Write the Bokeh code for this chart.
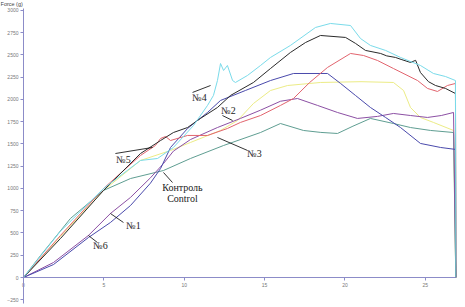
from bokeh.plotting import figure
from bokeh.models import LinearAxis, FixedTicker, ColumnDataSource, Range1d, Label
from bokeh.core.properties import value
from bokeh.embed import file_html
from bokeh.resources import INLINE

# ---- data (time s, force g) ----
t_n4 = [0, 2.30, 4.98, 7.28, 8.34, 9.33, 10.58, 11.45, 11.82, 12.07, 12.26, 12.45, 12.69, 13.01, 13.19, 13.94, 14.75, 15.37, 16.61, 18.17, 19.10, 20.35, 20.97, 21.59, 22.53, 23.46, 24.70, 25.51, 26.26, 26.88, 26.9]
F_n4 = [0, 520, 1000, 1315, 1337, 1461, 1708, 1933, 2045, 2213, 2404, 2326, 2382, 2213, 2191, 2270, 2382, 2472, 2607, 2809, 2854, 2831, 2685, 2607, 2551, 2472, 2382, 2292, 2258, 2213, 0]

t_n5 = [0, 2.30, 4.98, 7.28, 8.53, 9.33, 10.21, 11.01, 12.07, 12.88, 14.31, 15.37, 16.61, 17.55, 18.48, 20.04, 20.66, 21.28, 22.22, 22.60, 23.15, 23.50, 24.08, 24.40, 24.70, 25.20, 25.64, 26.26, 26.88, 26.9]
F_n5 = [0, 438, 978, 1393, 1539, 1629, 1685, 1787, 1910, 2045, 2191, 2348, 2528, 2640, 2719, 2697, 2630, 2551, 2517, 2490, 2472, 2450, 2416, 2440, 2303, 2200, 2157, 2124, 2067, 0]

t_n6 = [0, 1.87, 4.04, 5.41, 6.66, 7.90, 8.53, 9.15, 10.21, 11.45, 12.26, 13.81, 15.37, 16.80, 18.92, 19.73, 20.66, 21.59, 22.53, 23.46, 24.70, 25.95, 26.88, 26.9]
F_n6 = [0, 146, 449, 618, 809, 1060, 1225, 1461, 1674, 1854, 1989, 2101, 2213, 2292, 2292, 2180, 2045, 1910, 1798, 1685, 1506, 1461, 1439, 0]

t_n1 = [0, 1.87, 4.04, 5.41, 6.66, 7.90, 8.71, 9.33, 10.39, 12.07, 13.50, 14.75, 15.99, 17.05, 18.30, 19.54, 20.78, 22.03, 23.02, 24.08, 25.14, 26.00, 26.76, 26.9]
F_n1 = [0, 169, 472, 719, 900, 1120, 1280, 1420, 1550, 1685, 1787, 1880, 1980, 2011, 1933, 1854, 1787, 1810, 1843, 1820, 1798, 1820, 1854, 0]

t_n3 = [0, 2.30, 4.98, 7.28, 8.21, 8.53, 8.84, 9.15, 10.21, 11.45, 12.69, 13.50, 14.75, 15.99, 16.80, 17.80, 18.92, 20.35, 21.16, 22.03, 23.02, 24.52, 25.14, 25.76, 26.38, 26.88, 26.9]
F_n3 = [0, 472, 1000, 1371, 1483, 1562, 1584, 1539, 1596, 1596, 1674, 1742, 1820, 1933, 2011, 2190, 2360, 2517, 2494, 2438, 2348, 2213, 2124, 2090, 2157, 2180, 0]

t_n2 = [0, 2.30, 4.98, 7.28, 9.15, 10.39, 12.26, 13.32, 14.31, 15.37, 16.43, 18.48, 21.00, 23.02, 23.65, 24.08, 24.70, 25.51, 26.76, 26.9]
F_n2 = [0, 461, 978, 1315, 1427, 1517, 1652, 1764, 1955, 2101, 2157, 2191, 2200, 2191, 2101, 1910, 1798, 1742, 1652, 0]

t_ctrl = [0, 1.06, 2.92, 4.98, 6.66, 8.71, 10.39, 12.45, 14.75, 15.99, 17.42, 18.50, 19.54, 20.50, 21.59, 23.02, 24.08, 25.33, 26.76, 26.9]
F_ctrl = [0, 247, 663, 978, 1112, 1202, 1337, 1483, 1629, 1730, 1652, 1630, 1618, 1700, 1787, 1730, 1685, 1652, 1629, 0]

x_ticks = [0, 5, 10, 15, 20, 25]
y_ticks = [-250, 0, 250, 500, 750, 1000, 1250, 1500, 1750, 2000, 2250, 2500, 2750, 3000]

label_text = ["№4", "№2", "№3", "№5", "Контроль", "Control", "№1", "№6"]
label_t = [10.95, 12.76, 14.37, 6.22, 9.89, 9.89, 6.85, 4.79]
label_F = [2022, 1876, 1393, 1326, 1011, 888, 584, 360]

ptr_t0 = [10.52, 12.38, 12.07, 5.72, 8.71, 5.41, 4.04]
ptr_F0 = [2079, 1820, 1573, 1393, 1180, 719, 472]
ptr_t1 = [11.64, 13.01, 13.94, 8.03, 9.27, 6.22, 4.60]
ptr_F1 = [2157, 1764, 1427, 1461, 1067, 618, 393]

p = figure(width=465, height=307, output_backend="svg", toolbar_location=None,
           x_range=Range1d(-1.431, 27.504), y_range=Range1d(-337, 3112),
           x_axis_location=None, y_axis_location=None, min_border=0)
p.outline_line_color = None
p.xgrid.visible = False
p.ygrid.visible = False
p.background_fill_color = "white"

axis_col = "#8c8cc8"
xa = LinearAxis(fixed_location=0, ticker=FixedTicker(ticks=x_ticks), bounds=(0, 26.9))
ya = LinearAxis(fixed_location=0, ticker=FixedTicker(ticks=y_ticks), bounds=(-290, 3020))
for a in (xa, ya):
    a.axis_line_color = axis_col
    a.major_tick_line_color = axis_col
    a.major_tick_out = 3
    a.major_tick_in = 0
    a.minor_tick_line_color = None
    a.major_label_text_font_size = "5px"
    a.major_label_text_color = "#777777"
    a.major_label_standoff = 2
p.add_layout(xa, "below")
p.add_layout(ya, "left")

series = [
    (t_n2, F_n2, "#ecec86"),
    (t_ctrl, F_ctrl, "#5f9e92"),
    (t_n1, F_n1, "#8c50a4"),
    (t_n6, F_n6, "#4a4aac"),
    (t_n3, F_n3, "#e2646e"),
    (t_n5, F_n5, "#2a2a2a"),
    (t_n4, F_n4, "#7adbea"),
]
for tt, ff, col in series:
    p.line(tt, ff, line_color=col, line_width=1.0, line_join="round")

p.segment(x0=ptr_t0, y0=ptr_F0, x1=ptr_t1, y1=ptr_F1, line_color="black", line_width=0.8)

src = ColumnDataSource(dict(x=label_t, y=label_F, text=label_text))
p.text(x="x", y="y", text="text", source=src, text_font=value("Liberation Serif"),
       text_font_size="10px", text_align="center", text_baseline="middle", text_color="#222222")

p.add_layout(Label(x=-1.43, y=3112, text="Force (g)", text_font_size="5.5px",
                   text_baseline="top", text_align="left", text_color="#444444"))

open("out.html", "w").write(file_html(p, INLINE))
